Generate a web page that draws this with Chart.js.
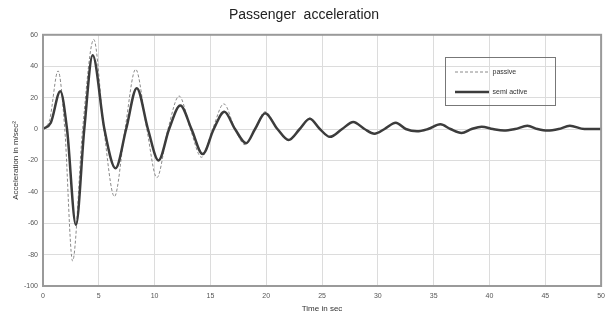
<!DOCTYPE html>
<html>
<head>
<meta charset="utf-8">
<script src="https://cdn.jsdelivr.net/npm/chart.js@4/dist/chart.umd.min.js"></script>
<style>
  html, body { margin: 0; padding: 0; background: #fff; }
  #wrap { width: 611px; height: 320px; }
</style>
</head>
<body>
<div id="wrap"><canvas id="chart"></canvas></div>
<script>
// Datos (tiempo en s, aceleracion en m/s2)
const xTicks = [0, 5, 10, 15, 20, 25, 30, 35, 40, 45, 50];
const yTicks = [60, 40, 20, 0, -20, -40, -60, -80, -100];
const seriesNames = ['passive', 'semi active'];

const passiveTime = [0, 0.6, 1.35, 1.95, 2.65, 3.55, 4.55, 5.45, 6.4, 7.35, 8.3, 9.3, 10.2, 11.2, 12.2, 13.2, 14.2, 15.2, 16.2, 17.2, 18.1, 19.0, 19.9, 21.0, 22.0, 23.0, 23.9, 24.8, 25.7, 26.8, 27.8, 28.8, 29.7, 30.6, 31.6, 32.5, 33.5, 34.5, 35.6, 36.5, 37.5, 38.4, 39.3, 40.3, 41.3, 42.3, 43.4, 44.3, 45.2, 46.2, 47.2, 48.5, 50];
const passiveAcc  = [0, 6, 37, 0, -84, 0, 57, 0, -43, 0, 38, 0, -31, 0, 21, 0, -18, 0, 16, 0, -10, 0, 11, 0, -7, 0, 7, 0, -5, 0, 4.5, 0, -3, 0, 4, 0, -1.5, 0, 3, 0, -2.5, 0, 1.5, 0, -1, 0, 2, 0, -1, 0, 2, 0, 0];

const semiTime = [0, 0.7, 1.55, 2.15, 2.95, 3.7, 4.45, 5.5, 6.5, 7.45, 8.4, 9.4, 10.35, 11.3, 12.3, 13.3, 14.3, 15.3, 16.25, 17.2, 18.2, 19.0, 19.9, 21.0, 22.0, 23.0, 23.9, 24.8, 25.7, 26.8, 27.8, 28.8, 29.7, 30.6, 31.6, 32.5, 33.5, 34.5, 35.6, 36.5, 37.5, 38.4, 39.3, 40.3, 41.3, 42.3, 43.4, 44.3, 45.2, 46.2, 47.2, 48.5, 50];
const semiAcc  = [0, 4, 24, 0, -61, 0, 47, 0, -25, 0, 26, 0, -20, 0, 15, 0, -16, 0, 11, 0, -9, 0, 10, 0, -7, 0, 6.5, 0, -5, 0, 4.5, 0, -3, 0, 4, 0, -1.5, 0, 3, 0, -2.5, 0, 1.5, 0, -1, 0, 2, 0, -1, 0, 2, 0, 0];

const toPoints = (xs, ys) => xs.map((x, i) => ({ x: x, y: ys[i] }));

// Marco del area y caja de la leyenda (estilo MATLAB)
const marcoPlugin = {
  id: 'marco',
  afterLayout(chart) {
    const lg = chart.legend;
    if (!lg) return;
    lg.left = 442; lg.top = 55.5;
    lg.right = 570; lg.bottom = 220;
  },
  afterDatasetsDraw(chart) {
    const { ctx, chartArea: a } = chart;
    ctx.save();
    ctx.strokeStyle = '#9a9a9a';
    ctx.lineWidth = 2;
    ctx.strokeRect(a.left, a.top, a.right - a.left, a.bottom - a.top);
    ctx.restore();
  },
  afterDraw(chart) {
    const { ctx } = chart;
    ctx.save();
    ctx.strokeStyle = '#777';
    ctx.lineWidth = 1;
    ctx.strokeRect(445.5, 57.5, 110, 48);
    ctx.restore();
  }
};

new Chart(document.getElementById('chart'), {
  type: 'line',
  data: {
    datasets: [
      {
        label: seriesNames[0],
        data: toPoints(passiveTime, passiveAcc),
        borderColor: '#8a8a8a',
        borderWidth: 1,
        borderDash: [3, 2],
        pointRadius: 0,
        cubicInterpolationMode: 'monotone',
        order: 1
      },
      {
        label: seriesNames[1],
        data: toPoints(semiTime, semiAcc),
        borderColor: '#3c3c3c',
        borderWidth: 2.5,
        pointRadius: 0,
        cubicInterpolationMode: 'monotone',
        order: 0
      }
    ]
  },
  options: {
    responsive: true,
    maintainAspectRatio: false,
    animation: false,
    layout: { padding: { left: 0, right: 3, top: 0, bottom: 0 } },
    plugins: {
      title: {
        display: true,
        text: 'Passenger  acceleration',
        color: '#222',
        font: { family: 'Liberation Sans', size: 14, weight: 'normal' },
        padding: { top: 7, bottom: 11 }
      },
      legend: {
        position: 'chartArea',
        align: 'start',
        labels: {
          usePointStyle: true,
          pointStyle: 'line',
          pointStyleWidth: 34,
          padding: 13,
          color: '#333',
          font: { family: 'Liberation Sans', size: 7 },
          sort: (a, b) => a.datasetIndex - b.datasetIndex,
          generateLabels: chart => Chart.defaults.plugins.legend.labels.generateLabels(chart).map(item => {
            const ds = chart.data.datasets[item.datasetIndex];
            item.lineDash = ds.borderDash || [];
            item.lineWidth = ds.borderWidth;
            item.strokeStyle = ds.borderColor;
            return item;
          })
        }
      },
      tooltip: { enabled: false }
    },
    scales: {
      x: {
        type: 'linear',
        min: 0, max: 50,
        afterBuildTicks: s => { s.ticks = xTicks.map(v => ({ value: v })); },
        afterFit: s => { s.height = 34; },
        grid: { color: '#dcdcdc', drawTicks: false },
        border: { display: false },
        ticks: { color: '#555', padding: 6, maxRotation: 0, font: { family: 'Liberation Sans', size: 7 } },
        title: {
          display: true,
          text: 'Time in sec',
          color: '#333',
          padding: { top: 0, bottom: 6 },
          font: { family: 'Liberation Sans', size: 8 }
        }
      },
      y: {
        min: -100, max: 60,
        afterBuildTicks: s => { s.ticks = yTicks.map(v => ({ value: v })); },
        afterFit: s => { s.width = 43; },
        grid: { color: '#dcdcdc', drawTicks: false },
        border: { display: false },
        ticks: { color: '#555', padding: 5, font: { family: 'Liberation Sans', size: 7 } },
        title: {
          display: true,
          text: 'Acceleration in m/sec\u00b2',
          color: '#333',
          padding: { top: 11, bottom: 0 },
          font: { family: 'Liberation Sans', size: 8 }
        }
      }
    }
  },
  plugins: [marcoPlugin]
});
</script>
</body>
</html>
